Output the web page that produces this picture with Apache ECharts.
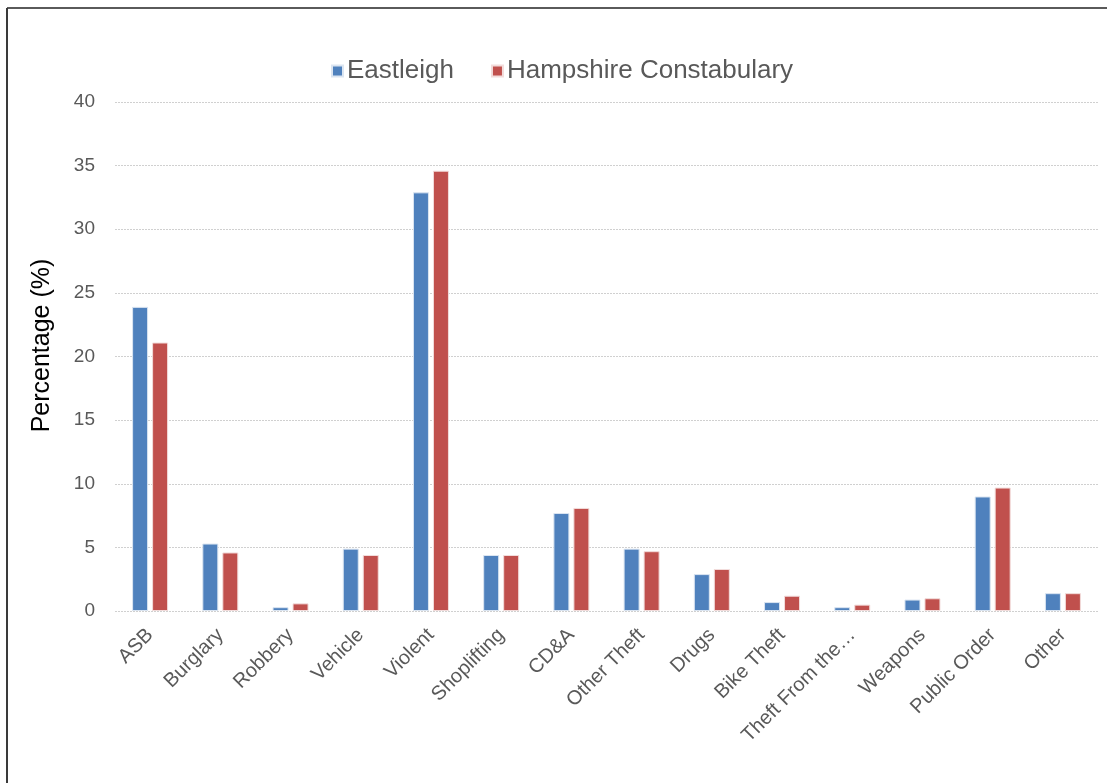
<!DOCTYPE html>
<html>
<head>
<meta charset="utf-8">
<script src="https://cdn.jsdelivr.net/npm/echarts@6/dist/echarts.min.js"></script>
<style>
html,body{margin:0;padding:0;background:#fff;}
#chart{width:1107px;height:783px;}
</style>
</head>
<body>
<div id="chart"></div>
<script>
const categories = ['ASB','Burglary','Robbery','Vehicle','Violent','Shoplifting','CD&A','Other Theft','Drugs','Bike Theft','Theft From the…','Weapons','Public Order','Other'];
const eastleigh = [23.9, 5.3, 0.3, 4.9, 32.9, 4.4, 7.7, 4.9, 2.9, 0.7, 0.3, 0.9, 9.0, 1.4];
const hampshire = [21.1, 4.6, 0.6, 4.4, 34.6, 4.4, 8.1, 4.7, 3.3, 1.2, 0.5, 1.0, 9.7, 1.4];
const yTicks = {min: 0, max: 40, interval: 5};

const chart = echarts.init(document.getElementById('chart'));
const font = 'Liberation Sans, Arial, sans-serif';
chart.setOption({
  animation: false,
  backgroundColor: '#ffffff',
  graphic: [
    {type: 'line', shape: {x1: 7, y1: 8, x2: 1107, y2: 8}, style: {stroke: '#5a5a5a', lineWidth: 2}},
    {type: 'line', shape: {x1: 7, y1: 8, x2: 7, y2: 783}, style: {stroke: '#3a3a3a', lineWidth: 2}}
  ],
  legend: {
    top: 53,
    left: 326,
    itemWidth: 11,
    itemHeight: 11,
    itemGap: 37,
    icon: 'rect',
    textStyle: {fontFamily: font, fontSize: 26, color: '#595959', padding: [0,0,0,-1]},
    data: ['Eastleigh', 'Hampshire Constabulary']
  },
  grid: {left: 115, right: 9, top: 102, bottom: 172},
  xAxis: {
    type: 'category',
    data: categories,
    axisLine: {show: false},
    axisTick: {show: false},
    axisLabel: {rotate: 45, fontFamily: font, fontSize: 20, color: '#595959', margin: 21, interval: 0}
  },
  yAxis: {
    type: 'value',
    min: yTicks.min, max: yTicks.max, interval: yTicks.interval,
    name: 'Percentage (%)',
    nameLocation: 'middle',
    nameGap: 60,
    nameTextStyle: {fontFamily: font, fontSize: 25, color: '#000000', padding: [0, 0, 0, 22]},
    axisLine: {show: false},
    axisTick: {show: false},
    axisLabel: {fontFamily: font, fontSize: 19, color: '#595959', margin: 20},
    splitLine: {lineStyle: {color: '#d0d0d0', type: [2, 1], width: 1}}
  },
  series: [
    {name: 'Eastleigh', type: 'bar', data: eastleigh, barWidth: 16, barGap: '25%',
     itemStyle: {color: '#4F81BD', borderColor: '#dbe5f1', borderWidth: 1}},
    {name: 'Hampshire Constabulary', type: 'bar', data: hampshire, barWidth: 16, barGap: '25%',
     itemStyle: {color: '#C0504D', borderColor: '#f2dcdb', borderWidth: 1}}
  ]
});
</script>
</body>
</html>
